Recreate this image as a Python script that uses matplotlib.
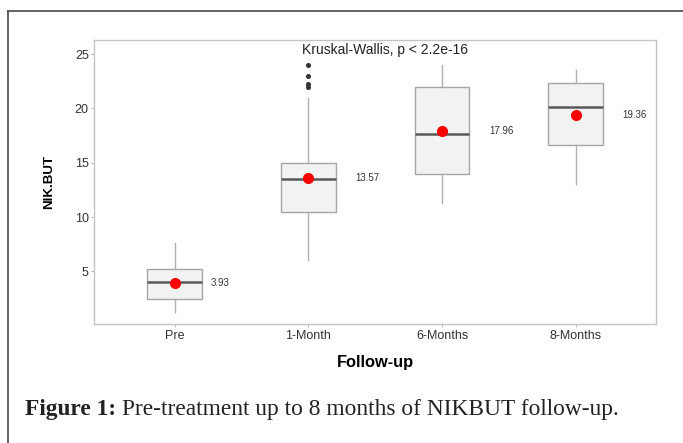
import matplotlib.pyplot as plt
from matplotlib.lines import Line2D

# valori
grupe = ["Pre", "1-Month", "6-Months", "8-Months"]
q1 = [2.48, 10.5, 14.0, 16.6]
mediana = [4.0, 13.47, 17.6, 20.1]
q3 = [5.21, 15.0, 22.0, 22.34]
whisk_jos = [1.28, 6.0, 11.25, 13.0]
whisk_sus = [7.58, 21.0, 24.0, 23.5]
medii = [3.93, 13.57, 17.96, 19.36]
outlieri = [[], [22.0, 22.25, 23.0, 24.0], [], []]

eticheta_dx = [0.27, 0.35, 0.35, 0.35]  # deplasare eticheta medie

plt.rcParams['font.family'] = ['Liberation Sans', 'DejaVu Sans']

fig = plt.figure(figsize=(6.83, 4.43), dpi=100)
ax = fig.add_axes([0.138, 0.2686, 0.8225, 0.6411])

stats = []
for i in range(len(grupe)):
    stats.append({"med": mediana[i], "q1": q1[i], "q3": q3[i],
                  "whislo": whisk_jos[i], "whishi": whisk_sus[i],
                  "fliers": outlieri[i], "label": grupe[i]})

poz = list(range(1, len(grupe) + 1))
ax.bxp(stats, positions=poz, widths=0.41, showcaps=False, patch_artist=True,
       boxprops=dict(facecolor="#f2f2f2", edgecolor="#a6a6a6", linewidth=1.0),
       medianprops=dict(color="#595959", linewidth=1.8),
       whiskerprops=dict(color="#b0b0b0", linewidth=1.0),
       flierprops=dict(marker="o", markersize=2.6, markerfacecolor="#333333",
                       markeredgecolor="#333333"))

ax.plot(poz, medii, "o", color="red", markersize=7, zorder=5)
for i in range(len(grupe)):
    ax.text(poz[i] + eticheta_dx[i], medii[i], "%.2f" % medii[i], fontsize=7,
            color="#333333", ha="left", va="center")

ax.text(2.57, 25.4, "Kruskal-Wallis, p < 2.2e-16", fontsize=10, color="#222222",
        ha="center", va="center")

ax.set_xlim(0.4, 4.6)
ax.set_ylim(0.15, 26.3)
ax.set_yticks([5, 10, 15, 20, 25])
ax.set_xticks(poz)
ax.set_xticklabels(grupe)
ax.tick_params(labelsize=9, colors="#333333", length=2.5, width=0.6, pad=1.5)
ax.tick_params(axis="both", color="#aaaaaa")
for s in ax.spines.values():
    s.set_color("#c4c4c4")
    s.set_linewidth(1.0)

ax.set_xlabel("Follow-up", fontsize=11.8, fontweight="bold", labelpad=10)
ax.set_ylabel("NIK.BUT", fontsize=9.6, fontweight="bold", labelpad=14)

# chenar exterior
fig.add_artist(Line2D([0.0122, 0.0122], [0, 0.975], color="#555555", linewidth=1.3))
fig.add_artist(Line2D([0.0122, 1.0], [0.975, 0.975], color="#555555", linewidth=1.3))

t1 = fig.text(0.0366, 0.0745, "Figure 1:", fontsize=16.8, fontweight="bold",
              family="Liberation Serif", color="#222222", va="center", ha="left")
ax.annotate("Pre-treatment up to 8 months of NIKBUT follow-up.", xy=(1, 0.5),
            xycoords=t1, xytext=(4, 0), textcoords="offset points",
            fontsize=16.8, family="Liberation Serif", color="#222222",
            va="center", ha="left")

fig.savefig("out.png", dpi=100)
